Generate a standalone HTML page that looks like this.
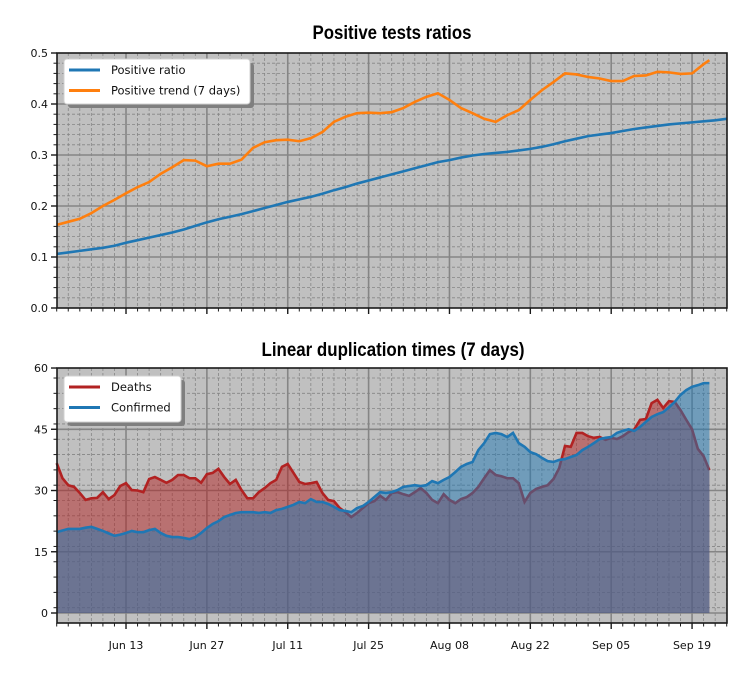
<!DOCTYPE html>
<html><head><meta charset="utf-8"><style>
body{margin:0;background:#fff;}
svg{display:block;}
text{font-family:"DejaVu Sans","Liberation Sans",sans-serif;}
.title{font-family:"Liberation Sans Narrow","Liberation Sans",sans-serif;font-stretch:condensed;font-weight:bold;font-size:19px;}
</style></head><body>
<svg id="chart" width="750" height="675" viewBox="0 0 750 675"></svg>
<script>
// ---- data ----
const topDaysBlue = [0,2,4,6,8,10,12,14,16,18,20,22,24,26,28,30,32,34,36,38,40,42,44,46,48,50,52,54,56,58,60,62,64,66,68,70,72,74,76,78,80,82,84,86,88,90,92,94,96,98,100,102,104,106,108,110,112,114,116];
const positiveRatio = [.106,.109,.112,.115,.118,.122,.128,.133,.138,.143,.148,.154,.161,.168,.174,.179,.184,.19,.196,.202,.208,.213,.218,.224,.231,.237,.244,.25,.256,.262,.268,.274,.28,.286,.29,.295,.299,.302,.304,.306,.309,.312,.316,.321,.327,.332,.337,.34,.343,.347,.351,.354,.357,.36,.362,.364,.366,.368,.371];
const topDaysTrend = [0,2,4,6,8,10,12,14,16,18,20,22,24,26,28,30,32,34,36,38,40,42,44,46,48,50,52,54,56,58,60,62,64,66,68,70,72,74,76,78,80,82,84,86,88,90,92,94,96,98,100,102,104,106,108,110,112,113];
const positiveTrend = [.163,.169,.175,.186,.2,.212,.225,.237,.247,.263,.276,.29,.289,.278,.283,.283,.291,.314,.325,.329,.33,.327,.333,.345,.365,.375,.382,.383,.382,.384,.392,.404,.414,.421,.408,.392,.382,.371,.365,.378,.388,.408,.427,.443,.46,.458,.453,.45,.445,.445,.455,.456,.463,.462,.459,.46,.478,.486];
const deaths = [36.7,33,31.3,30.9,29.4,27.7,28.1,28.2,29.6,27.9,28.9,31.1,31.8,30.1,30,29.6,32.8,33.3,32.6,31.9,32.6,33.8,33.8,33,33,31.9,34,34.3,35.3,33.3,31.6,32.6,30.1,28.1,28.1,29.6,30.6,31.8,32.6,35.8,36.5,34.3,32.1,31.6,31.8,32.1,29.4,27.7,27.4,25.7,24.7,23.5,24.5,25.7,26.9,27.4,28.7,27.7,29.4,29.6,29.1,28.7,29.6,30.6,29.4,27.7,26.9,29.1,27.7,26.9,27.9,28.4,29.4,30.9,33,35,33.8,33.5,33,33,31.8,27.2,29.4,30.4,30.9,31.3,32.8,35.5,40.9,40.7,44.1,44.1,43.3,42.9,43.1,42.4,42.9,42.6,43.3,44.3,45,47.3,47.5,51.4,52.2,50.2,51.9,51.7,49.7,47.3,45,40.2,38.4,35];
const confirmed = [19.8,20.2,20.6,20.6,20.6,20.9,21.1,20.6,20.1,19.5,18.9,19.2,19.6,20.1,19.8,19.8,20.3,20.6,19.6,18.9,18.6,18.6,18.4,18.1,18.6,19.6,20.8,21.8,22.5,23.5,24,24.5,24.7,24.7,24.7,24.5,24.7,24.5,25.2,25.5,26,26.5,27.2,26.9,27.9,27.2,27.2,26.7,26,25.2,25,24.7,25.7,26.2,27.2,28.4,29.6,29.4,29.6,30.1,30.9,31.1,31.3,31.1,31.3,32.3,31.8,32.6,33.3,34.5,35.8,36.5,37,39.9,41.6,43.8,44.1,43.8,43.1,44.1,41.6,40.7,39.4,38.9,38,37.2,37,37.5,37.7,38.2,38.7,39.9,40.7,41.6,42.6,42.9,43.1,44.1,44.6,45,44.6,45.6,46.8,48,48.7,49.2,50.4,51.7,53.4,54.6,55.4,55.8,56.3,56.3];
const dateTickDays = [12,26,40,54,68,82,96,110];
const dateTickLabels = ["Jun 13","Jun 27","Jul 11","Jul 25","Aug 08","Aug 22","Sep 05","Sep 19"];
const topYTicks = [0,0.1,0.2,0.3,0.4,0.5];
const topYLabels = ["0.0","0.1","0.2","0.3","0.4","0.5"];
const botYTicks = [0,15,30,45,60];
const botYLabels = ["0","15","30","45","60"];

// ---- axes ----
const X0=56.7, PXD=5.776, XL=57, XR=727;
const x = d => X0 + d*PXD;
const yTop = v => 308 - v*510;
const yBot = v => 613 - v*4.083;
const svg = document.getElementById('chart');
const NS='http://www.w3.org/2000/svg';
function mk(tag, attrs, parent){const e=document.createElementNS(NS,tag);for(const k in attrs)e.setAttribute(k,attrs[k]);(parent||svg).appendChild(e);return e;}

function panel(name, yT, yB, yf, ymajor, ylabels, yminorStep, ymin, ymax, showX){
  const g=mk('g',{});
  
  
  mk('rect',{x:XL,y:yT,width:XR-XL,height:yB-yT,fill:'#c0c0c0'},g);
  const grid=mk('g',{},g);
  
  
  for(let d=0; d<=116; d+=2){ if(dateTickDays.includes(d)) continue; const xx=x(d); if(xx<XL+0.5) continue;
    mk('line',{x1:xx,x2:xx,y1:yT,y2:yB,stroke:'#858585','stroke-width':0.8,'stroke-dasharray':'3,2'},grid);}
  for(let v=ymin; v<=ymax+1e-9; v+=yminorStep){ if(ymajor.some(m=>Math.abs(m-v)<1e-6)) continue; const yy=yf(v); if(yy<yT||yy>yB) continue;
    mk('line',{x1:XL,x2:XR,y1:yy,y2:yy,stroke:'#858585','stroke-width':0.8,'stroke-dasharray':'3,2'},grid);}
  dateTickDays.forEach(d=>mk('line',{x1:x(d),x2:x(d),y1:yT,y2:yB,stroke:'#858585','stroke-width':1.6},grid));
  ymajor.forEach(v=>{const yy=yf(v); if(yy>yT+1&&yy<yB-1) mk('line',{x1:XL,x2:XR,y1:yy,y2:yy,stroke:'#858585','stroke-width':1.6},grid);});
  return g;
}
function frame(g, yT, yB, yf, ymajor, ylabels, yminorStep, ymin, ymax, showX){
  mk('rect',{x:XL,y:yT,width:XR-XL,height:yB-yT,fill:'none',stroke:'#1a1a1a','stroke-width':1.6},g);
  ymajor.forEach((v,i)=>{const yy=yf(v);
    mk('line',{x1:XL-6,x2:XL,y1:yy,y2:yy,stroke:'#1a1a1a','stroke-width':1.4},g);
    const t=mk('text',{x:XL-9,y:yy+4,'text-anchor':'end','font-size':11,fill:'#111'},g); t.textContent=ylabels[i];
    
    
  });
  for(let v=ymin; v<=ymax+1e-9; v+=yminorStep){ if(ymajor.some(m=>Math.abs(m-v)<1e-6)) continue; const yy=yf(v); if(yy<yT||yy>yB) continue;
    mk('line',{x1:XL-3.5,x2:XL,y1:yy,y2:yy,stroke:'#1a1a1a','stroke-width':1},g);}
  for(let d=0; d<=116; d+=2){ const xx=x(d); if(xx<XL-0.5) continue;
    const maj=dateTickDays.includes(d);
    mk('line',{x1:xx,x2:xx,y1:yB,y2:yB+(maj?6:3.5),stroke:'#1a1a1a','stroke-width':maj?1.4:1},g);}
  if(showX) dateTickDays.forEach((d,i)=>{const t=mk('text',{x:x(d),y:yB+26,'text-anchor':'middle','font-size':11,fill:'#111'},g); t.textContent=dateTickLabels[i];
    
    });
}
function pathOf(days, vals, yf){return days.map((d,i)=>(i?'L':'M')+x(d).toFixed(2)+','+yf(vals[i]).toFixed(2)).join('');}

// ---- top panel ----
const gt=panel('positive-ratio-panel',53,308,yTop,topYTicks,topYLabels,0.02,0,0.5,false);
const pr=mk('path',{d:pathOf(topDaysBlue,positiveRatio,yTop),fill:'none',stroke:'#1f77b4','stroke-width':2.6},gt);


const pt=mk('path',{d:pathOf(topDaysTrend,positiveTrend,yTop),fill:'none',stroke:'#ff7f0e','stroke-width':2.6},gt);


frame(gt,53,308,yTop,topYTicks,topYLabels,0.02,0,0.5,false);

// ---- bottom panel ----
const gb=panel('duplication-panel',368,623,yBot,botYTicks,botYLabels,3.75,-2.45,60,true);
const bdays=deaths.map((_,i)=>i);
const cdays=confirmed.map((_,i)=>i);
function area(days, vals){return pathOf(days,vals,yBot)+'L'+x(days[days.length-1]).toFixed(2)+','+yBot(0)+'L'+x(days[0]).toFixed(2)+','+yBot(0)+'Z';}
const da=mk('path',{d:area(bdays,deaths),fill:'rgba(178,34,34,0.5)'},gb);


const dl=mk('path',{d:pathOf(bdays,deaths,yBot),fill:'none',stroke:'#b22222','stroke-width':2.6},gb);


const ca=mk('path',{d:area(cdays,confirmed),fill:'rgba(31,119,180,0.5)'},gb);


const cl=mk('path',{d:pathOf(cdays,confirmed,yBot),fill:'none',stroke:'#1f77b4','stroke-width':2.6},gb);


frame(gb,368,623,yBot,botYTicks,botYLabels,3.75,-2.45,60,true);

// ---- titles ----
const t1=mk('text',{x:392,y:39,'text-anchor':'middle',class:'title',fill:'#000',textLength:159,lengthAdjust:'spacingAndGlyphs'}); t1.textContent='Positive tests ratios';


const t2=mk('text',{x:393,y:356,'text-anchor':'middle',class:'title',fill:'#000',textLength:263,lengthAdjust:'spacingAndGlyphs'}); t2.textContent='Linear duplication times (7 days)';



// ---- legends ----
function legend(name,x0,y0,w,h,items){
  const g=mk('g',{});
  
  
  mk('rect',{x:x0+4,y:y0+4,width:w,height:h,rx:3,fill:'#7f7f7f'},g);
  mk('rect',{x:x0,y:y0,width:w,height:h,rx:3,fill:'#fff',stroke:'#d0d0d0','stroke-width':1},g);
  items.forEach((it,i)=>{const yy=y0+11+i*20.5;
    mk('line',{x1:x0+5,x2:x0+36,y1:yy,y2:yy,stroke:it.c,'stroke-width':3},g);
    const t=mk('text',{x:x0+47,y:yy+4,'font-size':11.5,fill:'#111'},g); t.textContent=it.l;
    
    
  });
}
legend('top-legend',64,59,186,45,[{c:'#1f77b4',l:'Positive ratio'},{c:'#ff7f0e',l:'Positive trend (7 days)'}]);
legend('bottom-legend',64,376,117,46,[{c:'#b22222',l:'Deaths'},{c:'#1f77b4',l:'Confirmed'}]);
</script>
</body></html>
